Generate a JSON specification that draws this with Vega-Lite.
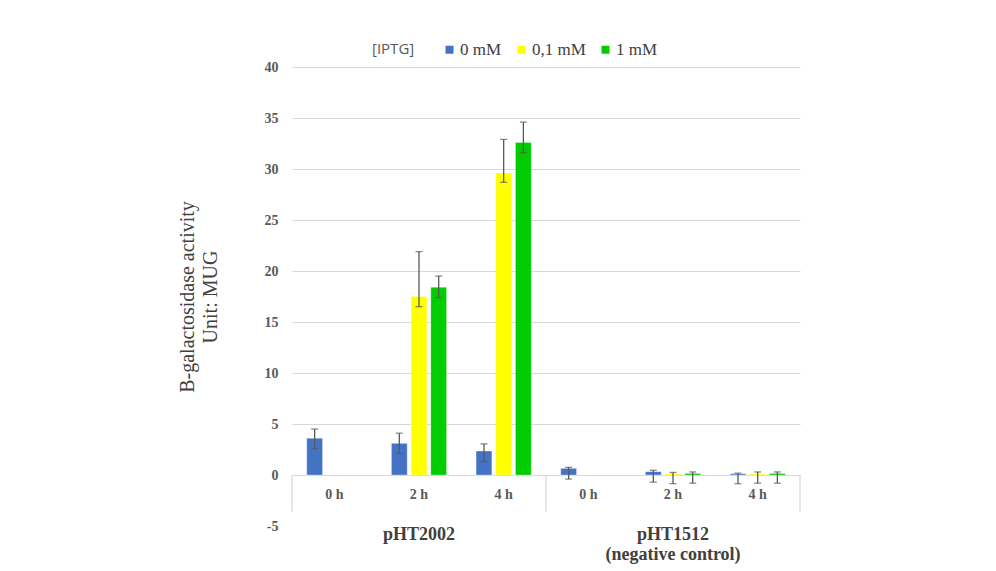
{
  "$schema": "https://vega.github.io/schema/vega-lite/v6.json",
  "width": 508,
  "height": 459,
  "autosize": {"type": "none"},
  "padding": {"left": 292, "top": 67, "right": 196, "bottom": 45},
  "background": "white",
  "config": {"view": {"stroke": null}},
  "datasets": {
    "bars": [
      {"cat": "pHT2002|0 h", "conc": "0 mM", "value": 3.6, "lo": 2.6, "hi": 4.5},
      {"cat": "pHT2002|2 h", "conc": "0 mM", "value": 3.1, "lo": 2.1, "hi": 4.1},
      {"cat": "pHT2002|2 h", "conc": "0,1 mM", "value": 17.5, "lo": 16.5, "hi": 21.9},
      {"cat": "pHT2002|2 h", "conc": "1 mM", "value": 18.4, "lo": 17.4, "hi": 19.5},
      {"cat": "pHT2002|4 h", "conc": "0 mM", "value": 2.35, "lo": 1.3, "hi": 3.05},
      {"cat": "pHT2002|4 h", "conc": "0,1 mM", "value": 29.6, "lo": 28.7, "hi": 32.9},
      {"cat": "pHT2002|4 h", "conc": "1 mM", "value": 32.6, "lo": 31.6, "hi": 34.6},
      {"cat": "pHT1512|0 h", "conc": "0 mM", "value": 0.65, "lo": -0.4, "hi": 0.75},
      {"cat": "pHT1512|2 h", "conc": "0 mM", "value": 0.33, "lo": -0.7, "hi": 0.46},
      {"cat": "pHT1512|2 h", "conc": "0,1 mM", "value": 0.12, "lo": -0.85, "hi": 0.25},
      {"cat": "pHT1512|2 h", "conc": "1 mM", "value": 0.15, "lo": -0.8, "hi": 0.3},
      {"cat": "pHT1512|4 h", "conc": "0 mM", "value": 0.12, "lo": -0.85, "hi": 0.18},
      {"cat": "pHT1512|4 h", "conc": "0,1 mM", "value": 0.12, "lo": -0.8, "hi": 0.3},
      {"cat": "pHT1512|4 h", "conc": "1 mM", "value": 0.15, "lo": -0.8, "hi": 0.3}
    ],
    "sepLeft": [{"cat": "pHT2002|0 h"}, {"cat": "pHT1512|0 h"}],
    "sepRight": [{"cat": "pHT1512|4 h"}],
    "groups": [
      {"cat": "pHT2002|2 h", "label": "pHT2002"},
      {"cat": "pHT1512|2 h", "label": "pHT1512\n(negative control)"}
    ]
  },
  "encoding": {
    "x": {
      "field": "cat",
      "type": "nominal",
      "scale": {
        "domain": ["pHT2002|0 h", "pHT2002|2 h", "pHT2002|4 h", "pHT1512|0 h", "pHT1512|2 h", "pHT1512|4 h"],
        "paddingInner": 0,
        "paddingOuter": 0
      },
      "axis": {
        "title": null,
        "domain": false,
        "ticks": false,
        "grid": false,
        "offset": -51,
        "labelAngle": 0,
        "labelPadding": 12,
        "labelFont": "Liberation Serif",
        "labelFontWeight": "bold",
        "labelFontSize": 14,
        "labelColor": "#595959",
        "labelExpr": "split(datum.label, '|')[1]"
      }
    }
  },
  "layer": [
    {
      "data": {"name": "bars"},
      "mark": {"type": "bar", "stroke": "white", "strokeWidth": 0.6, "strokeOpacity": 0.5},
      "encoding": {
        "xOffset": {
          "field": "conc",
          "type": "nominal",
          "scale": {"domain": ["0 mM", "0,1 mM", "1 mM"], "paddingInner": 0.2, "paddingOuter": 0.75}
        },
        "y": {
          "field": "value",
          "type": "quantitative",
          "scale": {"domain": [-5, 40], "nice": false, "zero": false},
          "axis": {
            "values": [-5, 0, 5, 10, 15, 20, 25, 30, 35, 40],
            "labelExpr": "replace(datum.label, '\u2212', '-')",
            "title": ["B-galactosidase activity", "Unit: MUG"],
            "titleFont": "Liberation Serif",
            "titleFontWeight": "normal",
            "titleFontSize": 20,
            "titleColor": "#404040",
            "titleLineHeight": 23,
            "titlePadding": 44,
            "domain": false,
            "ticks": false,
            "labelPadding": 14,
            "labelFont": "Liberation Serif",
            "labelFontWeight": "bold",
            "labelFontSize": 14,
            "labelColor": "#595959",
            "gridColor": "#d9d9d9",
            "gridWidth": 1,
            "gridOpacity": {"condition": {"test": "datum.value < 0", "value": 0}, "value": 1}
          }
        },
        "color": {
          "field": "conc",
          "type": "nominal",
          "scale": {"domain": ["0 mM", "0,1 mM", "1 mM"], "range": ["#4472C4", "#FFFF00", "#00CC00"]},
          "legend": {
            "title": "[IPTG]",
            "orient": "none",
            "legendX": 80,
            "legendY": -26,
            "direction": "horizontal",
            "titleOrient": "left",
            "titleFont": "Open Sans",
            "titleFontWeight": "normal",
            "titleFontSize": 15,
            "titleColor": "#595959",
            "titlePadding": 26,
            "labelFont": "Liberation Serif",
            "labelFontSize": 17,
            "labelColor": "#404040",
            "labelOffset": 2,
            "symbolType": "square",
            "symbolSize": 64,
            "symbolStrokeWidth": 0,
            "columnPadding": 11
          }
        }
      }
    },
    {
      "data": {"name": "bars"},
      "mark": {"type": "rule", "color": "#595959", "strokeWidth": 1.3},
      "encoding": {
        "xOffset": {"field": "conc", "type": "nominal"},
        "y": {"field": "lo", "type": "quantitative"},
        "y2": {"field": "hi"}
      }
    },
    {
      "data": {"name": "bars"},
      "mark": {"type": "tick", "color": "#595959", "thickness": 1.3, "size": 7},
      "encoding": {
        "xOffset": {"field": "conc", "type": "nominal"},
        "y": {"field": "lo", "type": "quantitative"}
      }
    },
    {
      "data": {"name": "bars"},
      "mark": {"type": "tick", "color": "#595959", "thickness": 1.3, "size": 7},
      "encoding": {
        "xOffset": {"field": "conc", "type": "nominal"},
        "y": {"field": "hi", "type": "quantitative"}
      }
    },
    {
      "data": {"name": "sepLeft"},
      "mark": {"type": "rule", "color": "#d9d9d9", "strokeWidth": 1.3},
      "encoding": {
        "x": {"field": "cat", "type": "nominal", "bandPosition": 0},
        "y": {"datum": 0},
        "y2": {"datum": -3.6}
      }
    },
    {
      "data": {"name": "sepRight"},
      "mark": {"type": "rule", "color": "#d9d9d9", "strokeWidth": 1.3},
      "encoding": {
        "x": {"field": "cat", "type": "nominal", "bandPosition": 1},
        "y": {"datum": 0},
        "y2": {"datum": -3.6}
      }
    },
    {
      "data": {"name": "groups"},
      "mark": {
        "type": "text",
        "font": "Liberation Serif",
        "fontWeight": "bold",
        "fontSize": 18,
        "color": "#404040",
        "baseline": "top",
        "lineBreak": "\n",
        "lineHeight": 20
      },
      "encoding": {
        "text": {"field": "label"},
        "y": {"datum": -5.0}
      }
    }
  ]
}
